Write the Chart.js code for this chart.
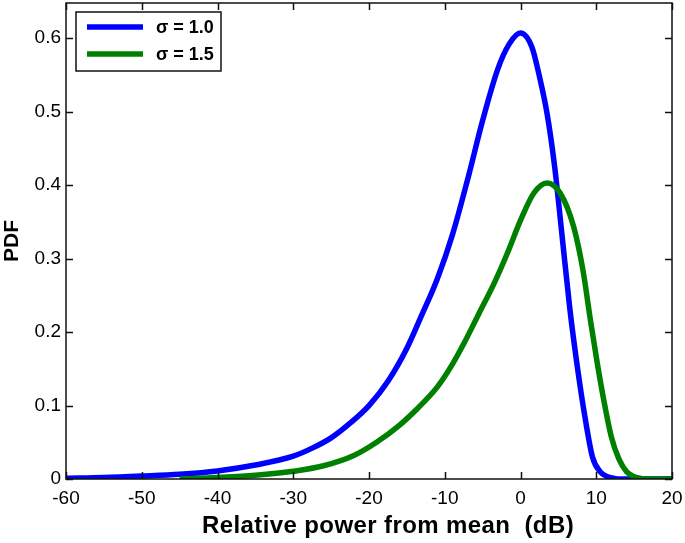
<!DOCTYPE html>
<html>
<head>
<meta charset="utf-8">
<script src="https://cdn.jsdelivr.net/npm/chart.js@4"></script>
<style>
  html, body { margin: 0; padding: 0; background: #fff; }
  #wrap { width: 685px; height: 543px; }
</style>
</head>
<body>
<div id="wrap"><canvas id="c" width="685" height="543"></canvas></div>
<script>
// ---- data ----
const seriesLabels = ['σ = 1.0', 'σ = 1.5'];
const blueX = [-60, -55, -50, -45, -40, -35, -30, -27.5, -25, -22.5, -20, -17.5, -15, -13, -11, -9, -7, -5, -3, -1.5, 0, 1.5, 2.5, 3.5, 4.5, 5.5, 6.5, 7.5, 8.5, 9.5, 10.5, 11.5, 12.5, 13.5, 20];
const blueY = [0.001, 0.002, 0.004, 0.0065, 0.011, 0.019, 0.031, 0.042, 0.056, 0.076, 0.100, 0.133, 0.178, 0.224, 0.272, 0.332, 0.407, 0.488, 0.558, 0.592, 0.607, 0.588, 0.548, 0.498, 0.426, 0.330, 0.233, 0.153, 0.085, 0.030, 0.010, 0.003, 0.0005, 0.0, 0.0];
const greenX = [-45, -40, -35, -30, -26, -22, -19, -16, -13.5, -11, -9, -7.5, -5.5, -3.5, -1.75, 0, 1.75, 3.5, 5.25, 7, 8.25, 9.25, 10.1, 11, 12, 13, 14, 15, 16, 17, 20];
const greenY = [0.0, 0.002, 0.005, 0.0105, 0.018, 0.032, 0.050, 0.073, 0.097, 0.125, 0.156, 0.184, 0.225, 0.266, 0.307, 0.352, 0.389, 0.403, 0.389, 0.344, 0.284, 0.215, 0.160, 0.107, 0.057, 0.027, 0.010, 0.003, 0.0005, 0.0, 0.0];
const xTicks = [-60, -50, -40, -30, -20, -10, 0, 10, 20];
const yTicks = [0, 0.1, 0.2, 0.3, 0.4, 0.5, 0.6];
const xTitle = 'Relative power from mean  (dB)';
const yTitle = 'PDF';

const FONT = '"Liberation Sans", Arial, Helvetica, sans-serif';
const toPts = (xs, ys) => xs.map((x, i) => ({ x: x, y: ys[i] }));

const frameTicks = {
  id: 'frameTicks',
  afterDraw(chart) {
    const { ctx, chartArea: a, scales } = chart;
    ctx.save();
    ctx.strokeStyle = '#111';
    ctx.lineWidth = 1.5;
    ctx.strokeRect(a.left, a.top, a.right - a.left, a.bottom - a.top);
    const L = 7;
    ctx.beginPath();
    xTicks.forEach(v => {
      const px = Math.round(scales.x.getPixelForValue(v)) + 0.5;
      ctx.moveTo(px, a.bottom); ctx.lineTo(px, a.bottom - L);
      ctx.moveTo(px, a.top); ctx.lineTo(px, a.top + L);
    });
    yTicks.forEach(v => {
      const py = Math.round(scales.y.getPixelForValue(v)) + 0.5;
      ctx.moveTo(a.left, py); ctx.lineTo(a.left + L, py);
      ctx.moveTo(a.right, py); ctx.lineTo(a.right - L, py);
    });
    ctx.stroke();

    // x-axis title (placed as in the reference, slightly right of centre)
    ctx.fillStyle = '#000';
    ctx.font = 'bold 24px ' + FONT;
    try { ctx.letterSpacing = '0.4px'; } catch (e) {}
    ctx.textAlign = 'center';
    ctx.textBaseline = 'alphabetic';
    ctx.fillText(xTitle, (a.left + a.right) / 2 + 19, 533);
    try { ctx.letterSpacing = '0px'; } catch (e) {}

    // legend box
    const bx = 76, by = 12, bw = 145, bh = 59;
    ctx.fillStyle = '#fff';
    ctx.fillRect(bx, by, bw, bh);
    ctx.lineWidth = 1.5;
    ctx.strokeStyle = '#111';
    ctx.strokeRect(bx, by, bw, bh);
    chart.data.datasets.forEach((ds, i) => {
      const y = by + 15 + i * 27;
      ctx.strokeStyle = ds.borderColor;
      ctx.lineWidth = 5.5;
      ctx.beginPath();
      ctx.moveTo(bx + 11, y); ctx.lineTo(bx + 67, y);
      ctx.stroke();
      ctx.fillStyle = '#000';
      ctx.font = 'bold 18px ' + FONT;
      ctx.textBaseline = 'middle';
      ctx.textAlign = 'left';
      ctx.fillText(ds.label, bx + 80, y + 1);
    });
    ctx.restore();
  }
};

new Chart(document.getElementById('c'), {
  type: 'line',
  data: {
    datasets: [
      { label: seriesLabels[0], data: toPts(blueX, blueY), borderColor: '#0000ff', borderWidth: 5.5, pointRadius: 0, cubicInterpolationMode: 'monotone', order: 1, fill: false },
      { label: seriesLabels[1], data: toPts(greenX, greenY), borderColor: '#008000', borderWidth: 5.5, pointRadius: 0, cubicInterpolationMode: 'monotone', order: 0, fill: false }
    ]
  },
  options: {
    responsive: false,
    animation: false,
    devicePixelRatio: 1,
    layout: { padding: { top: 3, right: 13, left: 0, bottom: 0 } },
    plugins: { legend: { display: false }, tooltip: { enabled: false } },
    scales: {
      x: {
        type: 'linear', min: -60, max: 20,
        grid: { display: false, drawTicks: false },
        border: { display: false },
        ticks: { stepSize: 10, padding: 8, color: '#000', font: { family: FONT, size: 19 }, maxRotation: 0, autoSkip: false },
        title: { display: false },
        afterFit(s) { s.height = 64; s.paddingLeft = 0; s.paddingRight = 0; }
      },
      y: {
        type: 'linear', min: 0, max: 0.648,
        grid: { display: false, drawTicks: false },
        border: { display: false },
        ticks: { stepSize: 0.1, includeBounds: false, padding: 5, color: '#000', font: { family: FONT, size: 19 },
                 callback: v => (Math.abs(v) < 1e-9 ? '0' : v.toFixed(1)) },
        title: { display: true, text: yTitle, color: '#000', font: { family: FONT, size: 21, weight: 'bold' }, padding: { top: 0, bottom: 0 } },
        afterFit(s) { s.width = 66; s.paddingTop = 0; s.paddingBottom = 0; }
      }
    }
  },
  plugins: [frameTicks]
});
</script>
</body>
</html>
